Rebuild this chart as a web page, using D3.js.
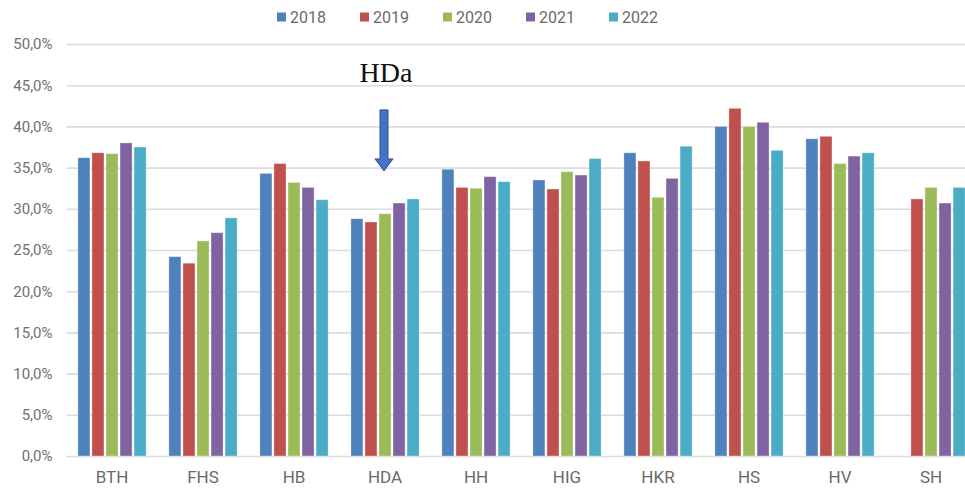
<!DOCTYPE html>
<html>
<head>
<meta charset="utf-8">
<script src="https://cdn.jsdelivr.net/npm/d3@7/dist/d3.min.js"></script>
<style>
  html, body { margin: 0; padding: 0; background: #fff; overflow: hidden; }
  svg { display: block; }
</style>
</head>
<body>
<svg id="chart" width="965" height="488"></svg>
<script>
// Share per institution and year (percent)
const categories = ["BTH", "FHS", "HB", "HDA", "HH", "HIG", "HKR", "HS", "HV", "SH"];
const years = ["2018", "2019", "2020", "2021", "2022"];
const values2018 = [36.2, 24.2, 34.3, 28.8, 34.8, 33.5, 36.8, 40.0, 38.5, null];
const values2019 = [36.8, 23.4, 35.5, 28.4, 32.6, 32.4, 35.8, 42.2, 38.8, 31.2];
const values2020 = [36.7, 26.1, 33.2, 29.4, 32.5, 34.5, 31.4, 40.0, 35.5, 32.6];
const values2021 = [38.0, 27.1, 32.6, 30.7, 33.9, 34.1, 33.7, 40.5, 36.4, 30.7];
const values2022 = [37.5, 28.9, 31.1, 31.2, 33.3, 36.1, 37.6, 37.1, 36.8, 32.6];
const yTicks = [0, 5, 10, 15, 20, 25, 30, 35, 40, 45, 50];
const seriesColors = ["#4f81bd", "#c0504d", "#9bbb59", "#8064a2", "#4bacc6"];

// Callout over HDA: label plus a downward arrow (top / tip in percent)
const calloutCategory = "HDA";
const calloutLabel = "HDa";
const calloutArrow = [42.0, 34.6];

const seriesValues = [values2018, values2019, values2020, values2021, values2022];
const rows = categories.map((c, i) => ({
  category: c,
  bars: years.map((y, j) => ({ year: y, value: seriesValues[j][i], color: seriesColors[j] }))
}));

const svg = d3.select("#chart");
const plot = { left: 66.5, right: 976.5, top: 44, bottom: 456 };

const x0 = d3.scaleBand().domain(categories).range([plot.left, plot.right])
  .paddingInner(0.25).paddingOuter(0.125);
const x1 = d3.scaleBand().domain(years).range([0, x0.bandwidth()]).paddingInner(0.14);
const y = d3.scaleLinear().domain([0, 50]).range([plot.bottom, plot.top]);

const locale = d3.formatLocale({ decimal: ",", thousands: ".", grouping: [3], currency: ["", "€"] });
const fmt = locale.format(".1f");

// Horizontal grid + y axis labels
const yAxis = d3.axisLeft(y).tickValues(yTicks).tickFormat(d => fmt(d) + "%")
  .tickSize(-(plot.right - plot.left)).tickPadding(14);
const gy = svg.append("g").attr("transform", `translate(${plot.left},0)`).call(yAxis);
gy.select(".domain").remove();
gy.selectAll(".tick line").attr("stroke", "#dcdcdc").attr("stroke-width", 1.6);
gy.selectAll(".tick text")
  .attr("fill", "#707070")
  .style("font-family", "Roboto, 'Noto Sans', sans-serif")
  .style("font-size", "15px");

// Category axis labels
const xAxis = d3.axisBottom(x0).tickSize(0).tickPadding(15);
const gx = svg.append("g").attr("transform", `translate(0,${plot.bottom})`).call(xAxis);
gx.select(".domain").remove();
gx.selectAll(".tick text")
  .attr("fill", "#6a6a6a")
  .style("font-family", "Roboto, 'Noto Sans', sans-serif")
  .style("font-size", "17px");

// Bars
const groups = svg.append("g").selectAll("g").data(rows).join("g")
  .attr("transform", d => `translate(${x0(d.category)},0)`);
groups.selectAll("rect").data(d => d.bars.filter(b => b.value != null)).join("rect")
  .attr("x", d => x1(d.year))
  .attr("y", d => y(d.value))
  .attr("width", x1.bandwidth())
  .attr("height", d => y(0) - y(d.value))
  .attr("fill", d => d.color)
  .attr("stroke", "rgba(255,255,255,0.45)")
  .attr("stroke-width", 0.8);

// Legend
const legend = svg.append("g").attr("transform", "translate(277,17)");
const li = legend.selectAll("g").data(years).join("g")
  .attr("transform", (d, i) => `translate(${i * 83},0)`);
li.append("rect").attr("x", 0).attr("y", -4.5).attr("width", 9).attr("height", 9)
  .attr("fill", (d, i) => seriesColors[i]);
li.append("text").attr("x", 13).attr("y", 0).attr("dy", "0.35em")
  .attr("fill", "#6a6a6a")
  .style("font-family", "Roboto, 'Noto Sans', sans-serif")
  .style("font-size", "16px")
  .text(d => d);

// Callout
const cx = x0(calloutCategory) + x0.bandwidth() / 2 - 1;
svg.append("text")
  .attr("x", cx + 2).attr("y", 82)
  .attr("text-anchor", "middle")
  .attr("fill", "#111")
  .style("font-family", "'Liberation Serif', 'Times New Roman', serif")
  .style("font-size", "28px")
  .text(calloutLabel);

const aTop = y(calloutArrow[0]);
const aTip = y(calloutArrow[1]);
const shaftW = 8, headW = 18, headH = 12;
const arrowPath = d3.path();
arrowPath.moveTo(cx - shaftW / 2, aTop);
arrowPath.lineTo(cx + shaftW / 2, aTop);
arrowPath.lineTo(cx + shaftW / 2, aTip - headH);
arrowPath.lineTo(cx + headW / 2, aTip - headH);
arrowPath.lineTo(cx, aTip);
arrowPath.lineTo(cx - headW / 2, aTip - headH);
arrowPath.lineTo(cx - shaftW / 2, aTip - headH);
arrowPath.closePath();
svg.append("path").attr("d", arrowPath.toString())
  .attr("fill", "#4472c4").attr("stroke", "#2f528f").attr("stroke-width", 1);
</script>
</body>
</html>
